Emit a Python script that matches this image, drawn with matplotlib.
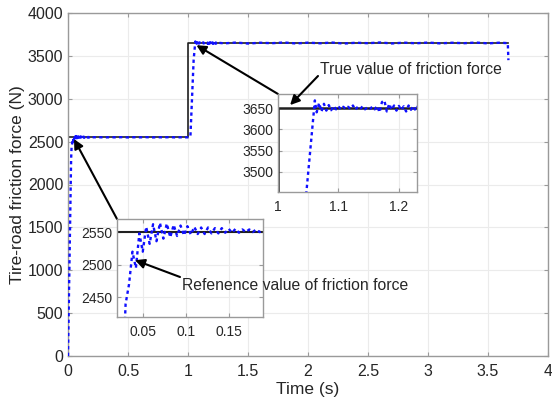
import matplotlib
matplotlib.use('Agg')
import matplotlib.pyplot as plt
from matplotlib.ticker import FormatStrFormatter

plt.rcParams['font.family'] = ['Liberation Sans', 'DejaVu Sans']

# ---------------- Data ----------------

# true (reference) friction force: step at t = 1 s
t_true = [0.0, 1.0, 1.0, 3.665]
f_true = [2550, 2550, 3650, 3650]

# estimated friction force: rise from zero, oscillating settle at 2550 N
t_est_a = [0.0, 0.01, 0.02, 0.026,
           0.030, 0.034, 0.038, 0.042, 0.046, 0.050, 0.054, 0.058, 0.062, 0.066,
           0.070, 0.074, 0.078, 0.082, 0.086, 0.090, 0.094, 0.098, 0.102, 0.106,
           0.110, 0.114, 0.118, 0.122, 0.126, 0.130, 0.134, 0.138, 0.142, 0.146,
           0.150, 0.154, 0.158, 0.162, 0.166, 0.170, 0.174, 0.178, 0.182, 0.186,
           0.190, 0.194,
           0.25, 0.30, 0.35, 0.40, 0.45, 0.50, 0.55, 0.60, 0.65, 0.70, 0.75,
           0.80, 0.85, 0.90, 0.95, 1.00, 1.02]
f_est_a = [0, 900, 1800, 2300,
           2440, 2470, 2520, 2495, 2548, 2520, 2558, 2532, 2562, 2536,
           2564, 2540, 2563, 2542, 2561, 2544, 2560, 2545, 2559, 2546,
           2558, 2547, 2557, 2547, 2557, 2548, 2556, 2548, 2556, 2549,
           2555, 2549, 2555, 2549, 2554, 2550, 2554, 2550, 2554, 2550,
           2553, 2550,
           2552, 2549, 2551, 2550, 2552, 2549, 2551, 2550, 2552, 2549, 2551,
           2550, 2552, 2549, 2551, 2550, 2556]

# estimated friction force after the step to 3650 N
t_est_b = [1.047, 1.061,
           1.064, 1.068, 1.072, 1.076, 1.080, 1.084, 1.088, 1.092, 1.096, 1.100,
           1.104, 1.108, 1.112, 1.116, 1.120, 1.124, 1.128, 1.132, 1.136, 1.140,
           1.144, 1.148, 1.152, 1.156, 1.160, 1.164, 1.168, 1.172, 1.176, 1.180,
           1.184, 1.188, 1.192, 1.196, 1.200, 1.204, 1.208, 1.212, 1.216, 1.220,
           1.224, 1.228, 1.232, 1.236, 1.240,
           1.30, 1.40, 1.50, 1.60, 1.70, 1.80, 1.90, 2.00, 2.10, 2.20, 2.30,
           2.40, 2.50, 2.60, 2.70, 2.80, 2.90, 3.00, 3.10, 3.20, 3.30, 3.40,
           3.50, 3.60, 3.665, 3.67]
f_est_b = [3453, 3668,
           3640, 3662, 3642, 3660, 3644, 3657, 3645, 3655, 3647, 3654,
           3647, 3653, 3648, 3653, 3648, 3656, 3646, 3653, 3648, 3654,
           3647, 3652, 3648, 3653, 3647, 3655, 3640, 3664, 3668, 3642,
           3660, 3646, 3656, 3644, 3655, 3645, 3654, 3642, 3656, 3646,
           3655, 3644, 3656, 3645, 3655,
           3646, 3655, 3644, 3653, 3648, 3656, 3645, 3654, 3647, 3655, 3644,
           3653, 3648, 3656, 3645, 3654, 3647, 3655, 3646, 3653, 3648, 3655,
           3646, 3654, 3648, 3450]

t_est = t_est_a + t_est_b
f_est = f_est_a + f_est_b

main_xticks = [0, 0.5, 1, 1.5, 2, 2.5, 3, 3.5, 4]
main_yticks = [0, 500, 1000, 1500, 2000, 2500, 3000, 3500, 4000]
ins1_xticks = [0.05, 0.1, 0.15]
ins1_yticks = [2450, 2500, 2550]
ins2_xticks = [1, 1.1, 1.2]
ins2_yticks = [3500, 3550, 3600, 3650]

# ---------------- Styling helpers ----------------

FRAME = '#9a9a9a'
TEXT = '#262626'
GRID = '#ebebeb'
BLUE = '#1010ff'


def style_axes(ax, xticks, yticks, fontsize):
    ax.set_xticks(xticks)
    ax.set_yticks(yticks)
    ax.xaxis.set_major_formatter(FormatStrFormatter('%g'))
    ax.yaxis.set_major_formatter(FormatStrFormatter('%g'))
    ax.tick_params(direction='in', length=3, width=0.8, color=FRAME,
                   labelcolor=TEXT, labelsize=fontsize, top=True, right=True)
    ax.tick_params(axis='x', pad=6)
    for sp in ax.spines.values():
        sp.set_color(FRAME)
        sp.set_linewidth(1.0)
    ax.grid(True, color=GRID, linewidth=0.8)
    ax.set_axisbelow(True)


def draw_series(ax, lw_true=1.2):
    ax.plot(t_true, f_true, color='#202020', linewidth=lw_true, zorder=2)
    ax.plot(t_est, f_est, color=BLUE, linewidth=1.7,
            linestyle=(0, (1.4, 1.4)), zorder=3)


# ---------------- Figure ----------------

W, H = 552, 405
fig = plt.figure(figsize=(W / 100, H / 100), dpi=100)


def px_box(x0, y0, x1, y1):
    """Axes rect from pixel box (top-left origin)."""
    return [x0 / W, 1 - y1 / H, (x1 - x0) / W, (y1 - y0) / H]


ax = fig.add_axes(px_box(68, 13, 548, 356))
draw_series(ax)
ax.set_xlim(0, 4)
ax.set_ylim(0, 4000)
style_axes(ax, main_xticks, main_yticks, 11.5)
ax.set_xlabel('Time (s)', fontsize=12.5, color=TEXT, labelpad=2)
ax.set_ylabel('Tire-road friction force (N)', fontsize=12.5, color=TEXT, labelpad=2)

ins1 = fig.add_axes(px_box(117, 219, 263, 317))
draw_series(ins1, lw_true=1.5)
ins1.set_xlim(0.02, 0.19)
ins1.set_ylim(2420, 2570)
style_axes(ins1, ins1_xticks, ins1_yticks, 10)

ins2 = fig.add_axes(px_box(278, 94, 417, 192))
draw_series(ins2, lw_true=1.8)
ins2.set_xlim(1.0, 1.23)
ins2.set_ylim(3453, 3683)
style_axes(ins2, ins2_xticks, ins2_yticks, 10)

# ---------------- Arrows and notes ----------------

arrow = dict(arrowstyle='-|>', color='black', lw=1.5, mutation_scale=14,
             shrinkA=0, shrinkB=0)

# inset corners to the zoomed regions in the main axes
ax.annotate('', xy=(0.05, 2530), xycoords='data',
            xytext=(0, 1), textcoords=ins1.transAxes, arrowprops=arrow)
ax.annotate('', xy=(1.07, 3625), xycoords='data',
            xytext=(0, 1), textcoords=ins2.transAxes, arrowprops=arrow)

# notes pointing into the insets
ins1.annotate('', xy=(0.041, 2507), xycoords='data',
              xytext=(180 / W, 1 - 277 / H), textcoords='figure fraction',
              arrowprops=arrow, annotation_clip=False)
fig.text(182 / W, 1 - 285 / H, 'Refenence value of friction force',
         fontsize=11.3, color=TEXT, ha='left', va='center')

ins2.annotate('', xy=(1.02, 3657), xycoords='data',
              xytext=(318 / W, 1 - 76 / H), textcoords='figure fraction',
              arrowprops=arrow, annotation_clip=False)
fig.text(320 / W, 1 - 70 / H, 'True value of friction force',
         fontsize=11.3, color=TEXT, ha='left', va='center')

fig.savefig('out.png', dpi=100)
